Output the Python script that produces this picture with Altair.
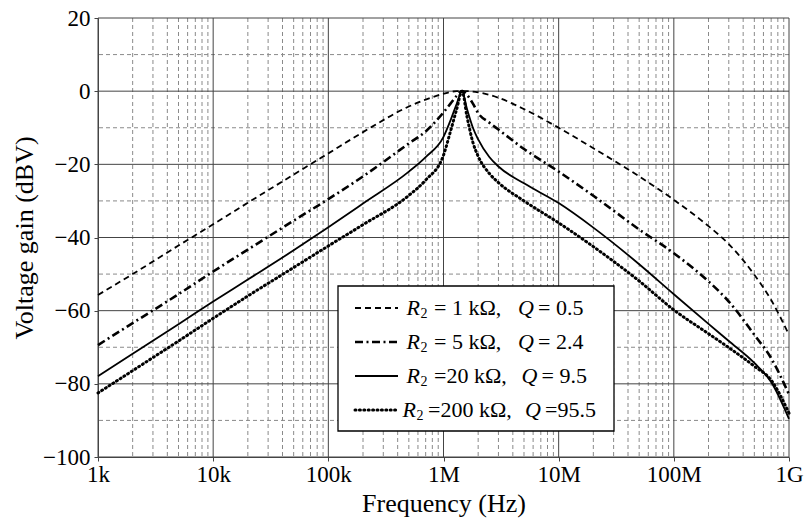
import altair as alt
import pandas as pd

# ---------------- data ----------------
freq_hz = [1e3, 2e3, 5e3, 1e4, 2e4, 5e4, 1e5, 2e5, 5e5, 7e5, 1e6, 1.15e6, 1.3e6,
           1.45e6, 1.6e6, 1.8e6, 2e6, 2.5e6, 3e6, 5e6, 1e7, 2e7, 5e7, 1e8, 2e8,
           3e8, 5e8, 7e8, 1e9]

gain_r1k = [-55.7, -50.0, -42.2, -36.4, -30.5, -22.8, -17.0, -11.2, -4.2, -2.3,
            -0.7, -0.2, 0.0, 0.0, 0.0, -0.1, -0.3, -1.0, -1.8, -4.9, -10.0,
            -15.6, -23.3, -29.7, -36.9, -41.8, -50.2, -57.1, -66.6]
gain_r5k = [-69.4, -63.4, -55.5, -49.3, -43.3, -35.4, -29.5, -23.3, -14.3, -11.0,
            -5.8, -3.4, -1.3, 0.0, -1.0, -3.4, -6.0, -8.6, -10.5, -15.8, -22.0,
            -28.6, -37.8, -44.3, -52.0, -57.5, -66.6, -73.0, -82.9]
gain_r20k = [-77.9, -71.8, -63.7, -57.5, -51.5, -43.5, -37.2, -30.7, -22.0, -18.0,
             -12.5, -8.0, -3.5, 0.0, -4.9, -10.0, -13.2, -18.0, -20.6, -25.2,
             -30.6, -37.3, -47.3, -55.5, -63.6, -68.3, -74.3, -79.5, -89.6]
gain_r200k = [-82.5, -76.4, -68.3, -62.1, -56.0, -48.2, -42.3, -36.5, -28.5, -24.3,
              -17.5, -11.0, -5.0, 0.0, -7.0, -14.0, -17.8, -22.5, -25.0, -30.0,
              -36.0, -42.5, -51.9, -59.8, -66.3, -70.1, -75.2, -79.0, -88.0]

r2_kohm = ["1", "5", "20", "200"]
q_values = ["0.5", "2.4", "9.5", "95.5"]

decade_ticks = [1e3, 1e4, 1e5, 1e6, 1e7, 1e8, 1e9]
decade_labels = ["1k", "10k", "100k", "1M", "10M", "100M", "1G"]
minor_multipliers = [2, 3, 4, 5, 6, 7, 8, 9]
gain_ticks = [20, 0, -20, -40, -60, -80, -100]
gain_minor = [10, -10, -30, -50, -70, -90]

# ---------------- layout / style ----------------
W, H = 691, 439
PAD_L, PAD_T = 98, 18
FONT = "Liberation Serif"

series_gains = [gain_r1k, gain_r5k, gain_r20k, gain_r200k]
series_styles = [
    dict(strokeDash=[6, 4], strokeWidth=1.8),
    dict(strokeDash=[8, 3.5, 2, 3.5], strokeWidth=2.6),
    dict(strokeWidth=1.8),
    dict(strokeDash=[1, 3.4], strokeWidth=3.0, strokeCap="round"),
]

xs = alt.Scale(type="log", domain=[1e3, 1e9], nice=False)
ys = alt.Scale(domain=[-100, 20], nice=False, zero=False)

x_expr = " : ".join(
    f"datum.value == {v:g} ? '{lab}'" for v, lab in zip(decade_ticks, decade_labels)
) + " : ''"

x_axis = alt.Axis(values=decade_ticks, labelExpr=x_expr, grid=False, tickSize=4,
                  labelFont=FONT, labelFontSize=23, labelColor="black",
                  labelPadding=2, labelOverlap=False, labelFlush=False,
                  title="Frequency (Hz)", titleFont=FONT, titleFontSize=26,
                  titleFontWeight="normal", titleColor="black", titlePadding=4,
                  domainColor="#444", tickColor="#444")
y_axis = alt.Axis(values=gain_ticks,
                  labelExpr="datum.value < 0 ? '\u2212' + abs(datum.value) : '' + datum.value",
                  grid=False, tickSize=4, labelFont=FONT, labelFontSize=23,
                  labelColor="black", labelPadding=4, labelOverlap=False, labelFlush=False,
                  title="Voltage gain (dBV)", titleFont=FONT, titleFontSize=26,
                  titleFontWeight="normal", titleColor="black", titlePadding=5,
                  domainColor="#444", tickColor="#444")

X = alt.X("f:Q", scale=xs, axis=x_axis)
Y = alt.Y("g:Q", scale=ys, axis=y_axis)

minor_f = [d * m for d in decade_ticks[:-1] for m in minor_multipliers]

minor_v = alt.Chart(pd.DataFrame({"f": minor_f})).mark_rule(
    color="#8a8a8a", strokeWidth=1, strokeDash=[4, 3]).encode(x=X)
minor_h = alt.Chart(pd.DataFrame({"g": gain_minor})).mark_rule(
    color="#8a8a8a", strokeWidth=1, strokeDash=[4, 3]).encode(y=Y)
major_v = alt.Chart(pd.DataFrame({"f": decade_ticks})).mark_rule(
    color="#444", strokeWidth=1).encode(x=X)
major_h = alt.Chart(pd.DataFrame({"g": gain_ticks})).mark_rule(
    color="#444", strokeWidth=1).encode(y=Y)

layers = [minor_v, minor_h, major_v, major_h]

for gains, style in zip(series_gains, series_styles):
    df = pd.DataFrame({"f": freq_hz, "g": gains})
    layers.append(
        alt.Chart(df).mark_line(color="black", interpolate="monotone", **style)
        .encode(x=X, y=Y)
    )

# ---------------- legend (drawn by hand to allow italic R, Q and subscript) ----------------
one = pd.DataFrame({"k": [0]})
layers.append(
    alt.Chart(one).mark_rect(fill="white", stroke="black", strokeWidth=1.3).encode(
        x=alt.value(338 - PAD_L), x2=alt.value(614 - PAD_L),
        y=alt.value(286 - PAD_T), y2=alt.value(431 - PAD_T))
)

row_y = [308 - PAD_T + 34 * i for i in range(4)]
r_x = [406.5, 406.5, 406.5, 402.5]
eq_x = [434, 434, 434, 428]
q_x = [518, 518, 521.5, 525]


def text_piece(txt, px, py, size=22, style=None):
    kw = dict(align="left", baseline="middle", font=FONT, fontSize=size,
              color="black", text=txt)
    if style:
        kw["fontStyle"] = style
    return alt.Chart(one).mark_text(**kw).encode(x=alt.value(px), y=alt.value(py))


for i, (r2, q) in enumerate(zip(r2_kohm, q_values)):
    y = row_y[i]
    layers.append(
        alt.Chart(one).mark_rule(color="black", **series_styles[i]).encode(
            x=alt.value(355 - PAD_L), x2=alt.value(398 - PAD_L), y=alt.value(y))
    )
    sep = " " if len(r2) == 1 else ""
    qsep = " " if len(q) <= 3 else ""
    layers.append(text_piece("R", r_x[i] - PAD_L, y, style="italic"))
    layers.append(text_piece("2", r_x[i] - PAD_L + 14, y + 6, size=14))
    layers.append(text_piece(f"={sep}{r2} k\u03a9,", eq_x[i] - PAD_L, y))
    layers.append(text_piece("Q", q_x[i] - PAD_L, y, style="italic"))
    layers.append(text_piece(f"={qsep}{q}", q_x[i] - PAD_L + 20, y))

chart = alt.layer(*layers).properties(
    width=W, height=H,
    autosize=alt.AutoSizeParams(type="none"),
    padding={"left": PAD_L, "top": PAD_T, "right": 806 - PAD_L - W, "bottom": 524 - PAD_T - H},
    background="white",
).configure_view(stroke=None)

chart.save("out.html", embed_options={"renderer": "svg", "actions": False})
